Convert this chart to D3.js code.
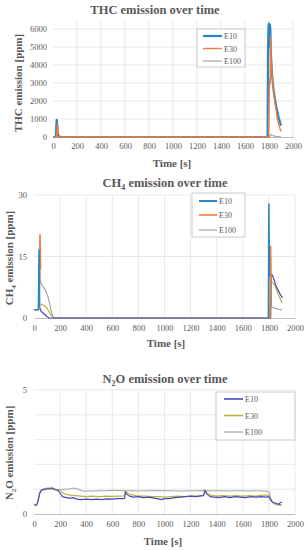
<!DOCTYPE html>
<html>
<head>
<meta charset="utf-8">
<script src="https://cdn.jsdelivr.net/npm/d3@7"></script>
<style>
  body { margin: 0; background: #fff; }
  svg { display: block; font-family: "Liberation Serif", "DejaVu Serif", serif; }
</style>
</head>
<body>
<svg id="chart" width="308" height="550"></svg>
<script>
// ---- data: [time s, ppm] ----
const xTicks = [0, 200, 400, 600, 800, 1000, 1200, 1400, 1600, 1800, 2000];

const thcE10 = [[0,0],[24,0],[28,700],[31,950],[35,600],[40,150],[50,20],[70,0],[1788,0],[1792,4900],[1796,6200],[1800,6300],[1804,5000],[1807,6250],[1811,6000],[1816,4600],[1825,3500],[1840,2500],[1860,1700],[1880,1100],[1900,630]];
const thcE30 = [[0,0],[30,0],[34,400],[38,700],[43,200],[55,30],[80,0],[1798,0],[1803,2800],[1807,3300],[1810,2900],[1813,5560],[1818,4200],[1830,3100],[1850,1900],[1870,1000],[1890,500],[1900,310]];
const thcE100 = [[0,0],[30,0],[35,100],[45,30],[90,0],[1805,0],[1810,130],[1830,80],[1860,30],[1900,0]];

const ch4E10 = [[0,2],[34,2],[39,16.5],[43,2.6],null,[1796,0],[1800,27.8],[1804,10]];
const ch4E30 = [[38,2],[46,20.3],[50,11.8],null,[1808,0],[1813,17.4],[1817,9]];
const ch4E100 = [[0,2],[34,2],[41,17],[47,9.3],[60,8],[85,7],[110,4.9],[135,1.2],[150,0],[1802,0],[1810,0],[1814,9.7],[1820,2.8],[1840,2.4],[1870,2.2],[1900,2.0]];
const ch4E10tail = [[43,2.6],[55,1.6],[70,1.2],[85,0.8],[100,0.3],[118,0],[1790,0],[1812,0],[1815,10.1],[1822,10.7],[1835,9.8],[1850,8.2],[1870,6.8],[1890,5.6],[1905,4.9]];
const ch4E30tail = [[50,3.4],[65,3.2],[80,3.0],[100,2.4],[120,1.2],[140,0.4],[160,0],[1800,0],[1815,0],[1817,8.9],[1830,8.6],[1850,7.7],[1870,6.0],[1890,4.5],[1900,3.6]];

const n2oE10 = [[0,.36],[20,.36],[30,.5],[45,.85],[60,.98],[80,1.0],[100,1.02],[120,1.03],[140,1.05],[160,1.0],[180,.95],[200,.85],[215,.72],[230,.68],[250,.66],[270,.64],[300,.66],[330,.6],[360,.58],[400,.6],[440,.58],[480,.6],[520,.58],[560,.61],[600,.6],[640,.62],[680,.62],[695,.63],[700,.9],[710,.8],[730,.72],[760,.68],[800,.7],[840,.66],[880,.68],[920,.64],[960,.6],[980,.58],[1000,.62],[1040,.62],[1080,.66],[1120,.68],[1160,.7],[1200,.72],[1240,.7],[1280,.73],[1300,.74],[1310,.95],[1325,.8],[1350,.7],[1380,.68],[1420,.66],[1460,.7],[1500,.66],[1540,.7],[1580,.68],[1620,.66],[1660,.7],[1700,.68],[1740,.7],[1780,.68],[1800,.7],[1810,.6],[1825,.5],[1840,.45],[1860,.42],[1875,.38],[1885,.45],[1900,.48]];
const n2oE30 = [[0,.36],[20,.36],[30,.5],[45,.85],[60,.95],[80,.98],[100,1.0],[130,1.0],[160,.98],[200,.95],[220,.85],[240,.8],[280,.76],[320,.74],[360,.72],[400,.7],[450,.72],[500,.7],[550,.72],[600,.71],[650,.72],[695,.73],[700,.95],[715,.85],[740,.78],[780,.74],[820,.72],[860,.72],[900,.7],[950,.7],[1000,.68],[1050,.7],[1100,.72],[1150,.7],[1200,.72],[1250,.72],[1300,.76],[1310,.98],[1325,.85],[1360,.75],[1400,.72],[1450,.74],[1500,.72],[1550,.74],[1600,.72],[1650,.74],[1700,.72],[1750,.76],[1790,.76],[1800,.74],[1815,.55],[1830,.45],[1850,.38],[1870,.36],[1890,.35],[1900,.33]];
const n2oE100 = [[0,.36],[20,.36],[30,.55],[45,.9],[60,.98],[80,1.02],[100,1.05],[120,1.05],[140,1.05],[160,1.0],[200,.98],[240,1.0],[280,1.02],[300,1.05],[330,1.02],[360,.95],[380,.92],[420,.93],[460,.93],[500,.94],[550,.94],[600,.96],[650,.95],[700,.94],[750,.94],[800,.93],[850,.94],[900,.94],[950,.95],[1000,.94],[1050,.94],[1100,.93],[1150,.93],[1200,.94],[1250,.94],[1300,.95],[1350,.94],[1400,.94],[1450,.94],[1500,.93],[1550,.94],[1600,.94],[1650,.93],[1700,.94],[1750,.93],[1790,.92],[1800,.9],[1815,.6],[1830,.45],[1850,.4],[1880,.38],[1900,.36]];

const legendNames = ['E10', 'E30', 'E100'];

const svg = d3.select('#chart');
const textGray = '#595959';
const serif = '"Liberation Serif", "DejaVu Serif", serif';

function drawChart(cfg) {
  const x = d3.scaleLinear().domain([0, 2000]).range([cfg.left, cfg.right]);
  const y = d3.scaleLinear().domain([0, cfg.yMax]).range([cfg.bottom, cfg.top]);
  const g = svg.append('g');

  // grid
  g.append('g').selectAll('line').data(xTicks.slice(1)).join('line')
    .attr('x1', d => x(d)).attr('x2', d => x(d))
    .attr('y1', cfg.top).attr('y2', cfg.bottom)
    .attr('stroke', '#e3e3e3').attr('stroke-width', 0.8);
  g.append('g').selectAll('line').data(cfg.gridY).join('line')
    .attr('x1', cfg.left).attr('x2', x(2000))
    .attr('y1', d => y(d)).attr('y2', d => y(d))
    .attr('stroke', '#e3e3e3').attr('stroke-width', 0.8);

  // axes
  const xa = g.append('g').attr('transform', `translate(0,${cfg.bottom})`)
    .call(d3.axisBottom(x).tickValues(xTicks).tickFormat(d3.format('d')).tickSize(0).tickPadding(cfg.xPad));
  xa.attr('font-family', serif).attr('font-size', 8.5);
  xa.select('.domain').attr('stroke', '#bfbfbf');
  xa.selectAll('text').attr('fill', textGray);

  const ya = g.append('g').attr('transform', `translate(${cfg.left},0)`)
    .call(d3.axisLeft(y).tickValues(cfg.yTicks).tickFormat(d3.format('d')).tickSize(0).tickPadding(cfg.yPad));
  ya.attr('font-family', serif).attr('font-size', 8.5);
  ya.select('.domain').remove();
  ya.selectAll('text').attr('fill', textGray);

  // lines
  const line = d3.line().defined(d => d !== null).x(d => x(d[0])).y(d => y(d[1]));
  cfg.series.forEach(s => {
    g.append('path').datum(s.data)
      .attr('d', line)
      .attr('fill', 'none')
      .attr('stroke', s.color)
      .attr('stroke-width', s.width)
      .attr('stroke-linejoin', 'round');
  });

  // legend
  const lg = cfg.legend;
  g.append('rect').attr('x', lg.x).attr('y', lg.y).attr('width', lg.w).attr('height', lg.h)
    .attr('fill', '#fff').attr('stroke', '#bfbfbf').attr('stroke-width', 0.8);
  legendNames.forEach((name, i) => {
    const yy = lg.rows[i];
    g.append('line').attr('x1', lg.lx1).attr('x2', lg.lx2).attr('y1', yy).attr('y2', yy)
      .attr('stroke', lg.colors[i]).attr('stroke-width', lg.widths[i]);
    g.append('text').attr('x', lg.lx2 + 2).attr('y', yy + 3)
      .attr('font-size', 8).attr('fill', textGray).text(name);
  });

  // titles
  const title = g.append('text').attr('x', cfg.titleX).attr('y', cfg.titleY)
    .attr('text-anchor', 'middle').attr('font-size', 12.5).attr('font-weight', 'bold').attr('fill', textGray);
  title.append('tspan').text(cfg.title[0]);
  if (cfg.title.length > 1) {
    title.append('tspan').attr('font-size', 8).attr('dy', 3).text(cfg.title[1]);
    title.append('tspan').attr('dy', -3).text(cfg.title[2]);
  }

  g.append('text').attr('x', cfg.xTitleX).attr('y', cfg.xTitleY)
    .attr('text-anchor', 'middle').attr('font-size', 11).attr('font-weight', 'bold').attr('fill', textGray)
    .text('Time [s]');

  const yt = g.append('text').attr('transform', `translate(${cfg.yTitleX},${cfg.yTitleY}) rotate(-90)`)
    .attr('text-anchor', 'middle').attr('font-size', 11).attr('font-weight', 'bold').attr('fill', textGray);
  yt.append('tspan').text(cfg.yTitle[0]);
  if (cfg.yTitle.length > 1) {
    yt.append('tspan').attr('font-size', 7).attr('dy', 3).text(cfg.yTitle[1]);
    yt.append('tspan').attr('dy', -3).text(cfg.yTitle[2]);
  }
}

const blue = '#2e86c1', orange = '#f07c3c', gray = '#a5a5a5';
const violet = '#4747c2', olive = '#b8b43a';

drawChart({
  left: 53, right: 293, top: 20, bottom: 137, yMax: 6500,
  yTicks: [0, 1000, 2000, 3000, 4000, 5000, 6000], gridY: [1000, 2000, 3000, 4000, 5000, 6000],
  xPad: 6, yPad: 6,
  series: [
    { data: thcE100, color: gray, width: 1.2 },
    { data: thcE10, color: blue, width: 2.2 },
    { data: thcE30, color: orange, width: 1.4 }
  ],
  legend: { x: 197, y: 29, w: 48, h: 38, rows: [36, 48.5, 61], lx1: 203, lx2: 222,
            colors: [blue, orange, gray], widths: [2.2, 1.4, 1.2] },
  title: ['THC emission over time'], titleX: 155, titleY: 14,
  xTitleX: 172, xTitleY: 167,
  yTitle: ['THC emission [ppm]'], yTitleX: 22, yTitleY: 83
});

drawChart({
  left: 34, right: 295, top: 195, bottom: 318, yMax: 30,
  yTicks: [0, 15, 30], gridY: [15, 30],
  xPad: 7, yPad: 7,
  series: [
    { data: ch4E100, color: gray, width: 1.2 },
    { data: ch4E30tail, color: olive, width: 1.2 },
    { data: ch4E10tail, color: violet, width: 1.2 },
    { data: ch4E30, color: orange, width: 1.6 },
    { data: ch4E10, color: blue, width: 1.6 }
  ],
  legend: { x: 192, y: 193, w: 53, h: 44, rows: [201, 215, 230], lx1: 199, lx2: 217,
            colors: [blue, orange, gray], widths: [2, 1.6, 1.2] },
  title: ['CH', '4', ' emission over time'], titleX: 165, titleY: 187,
  xTitleX: 166, xTitleY: 347,
  yTitle: ['CH', '4', ' emission [ppm]'], yTitleX: 13, yTitleY: 258
});

drawChart({
  left: 34, right: 295, top: 390, bottom: 514, yMax: 5,
  yTicks: [0, 5], gridY: [1, 2, 3, 4, 5],
  xPad: 7, yPad: 7,
  series: [
    { data: n2oE100, color: gray, width: 1.1 },
    { data: n2oE30, color: olive, width: 1.1 },
    { data: n2oE10, color: violet, width: 1.1 }
  ],
  legend: { x: 216, y: 392, w: 79, h: 48, rows: [399, 415.5, 432], lx1: 224, lx2: 243,
            colors: [violet, olive, gray], widths: [1.6, 1.6, 1.2] },
  title: ['N', '2', 'O emission over time'], titleX: 165, titleY: 383,
  xTitleX: 163, xTitleY: 545,
  yTitle: ['N', '2', 'O emission [ppm]'], yTitleX: 13, yTitleY: 453
});
</script>
</body>
</html>
